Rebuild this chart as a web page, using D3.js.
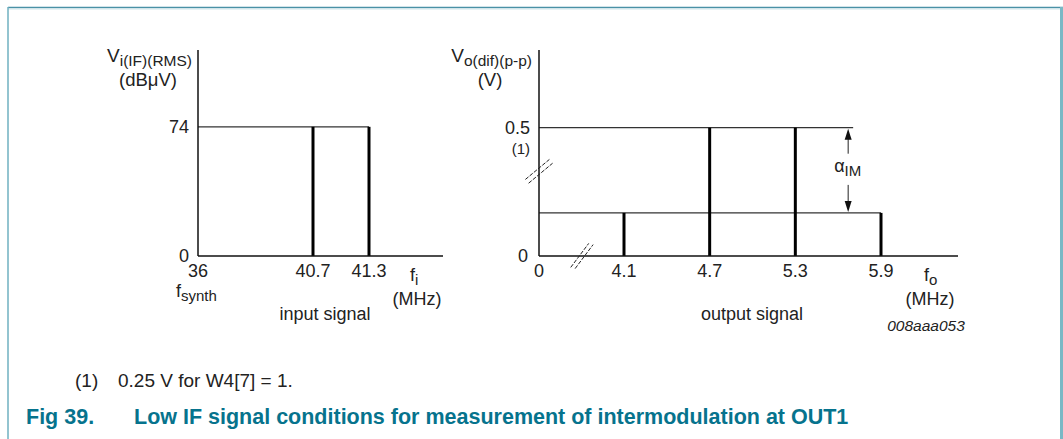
<!DOCTYPE html>
<html>
<head>
<meta charset="utf-8">
<script src="https://cdn.jsdelivr.net/npm/d3@7"></script>
<style>
  html, body { margin: 0; padding: 0; background: #fff; }
  svg { display: block; font-family: "Liberation Sans", Arial, sans-serif; }
</style>
</head>
<body>
<svg id="fig" width="1063" height="439"></svg>
<script>
// Input spectrum: two IF carriers at equal level
const inputFreqs = [40.7, 41.3];
const inputLevels = [74, 74];
const inputTicks = [36, 40.7, 41.3];
const inputTickLabels = ["36", "40.7", "41.3"];
const inputYTicks = [0, 74];
const inputYTickLabels = ["0", "74"];

// Output spectrum: two wanted tones and two intermodulation products
const outputFreqs = [4.1, 4.7, 5.3, 5.9];
const outputLevels = [0.168, 0.5, 0.5, 0.168];
const outputTicks = [0, 4.1, 4.7, 5.3, 5.9];
const outputTickLabels = ["0", "4.1", "4.7", "5.3", "5.9"];
const outputYTicks = [0, 0.5];
const outputYTickLabels = ["0", "0.5"];
const alphaFreq = 5.67;

const svg = d3.select("#fig");
const FS = 18;     // tick and axis text
const SUB = 15;    // subscripts
const INK = "#222";

// page frame
svg.append("line").attr("x1", 8).attr("x2", 1063).attr("y1", 7.5).attr("y2", 7.5)
  .attr("stroke", "#4a91a6").attr("stroke-width", 1.6);
svg.append("line").attr("x1", 8).attr("x2", 1063).attr("y1", 9).attr("y2", 9)
  .attr("stroke", "#cfe5ea").attr("stroke-width", 1);
svg.append("line").attr("x1", 8).attr("x2", 8).attr("y1", 7).attr("y2", 439)
  .attr("stroke", "#6fb1c0").attr("stroke-width", 1.5);
svg.append("line").attr("x1", 1061.5).attr("x2", 1061.5).attr("y1", 7).attr("y2", 439)
  .attr("stroke", "#7ab8c5").attr("stroke-width", 3);

function subText(g, x, y, main, sub, anchor, size, subSize) {
  const t = g.append("text").attr("x", x).attr("y", y).attr("font-size", size || FS).attr("fill", INK);
  if (anchor) t.attr("text-anchor", anchor);
  t.append("tspan").text(main);
  t.append("tspan").attr("font-size", subSize || SUB).attr("dy", 4).text(sub);
  return t;
}

// ---------- input signal panel ----------
const xIn = d3.scaleLinear().domain([36, 40.7, 41.3, 42.65]).range([198, 313, 369, 443]);
const yIn = d3.scaleLinear().domain([0, 118]).range([256, 50]);

const gIn = svg.append("g");
// level line at carrier amplitude
gIn.append("line")
  .attr("x1", xIn(36)).attr("x2", xIn(d3.max(inputFreqs)))
  .attr("y1", yIn(inputLevels[0])).attr("y2", yIn(inputLevels[0]))
  .attr("stroke", "#333").attr("stroke-width", 1.2);
// carriers
gIn.selectAll("line.bar").data(inputFreqs).join("line").attr("class", "bar")
  .attr("x1", d => xIn(d)).attr("x2", d => xIn(d))
  .attr("y1", yIn(0)).attr("y2", (d, i) => yIn(inputLevels[i]))
  .attr("stroke", "#000").attr("stroke-width", 3);
// axes
gIn.append("line").attr("x1", xIn(36)).attr("x2", xIn(36)).attr("y1", yIn(0)).attr("y2", yIn(118))
  .attr("stroke", "#111").attr("stroke-width", 1.5);
gIn.append("line").attr("x1", xIn(36)).attr("x2", xIn(42.65)).attr("y1", yIn(0)).attr("y2", yIn(0))
  .attr("stroke", "#111").attr("stroke-width", 1.5);

gIn.selectAll("text.xt").data(inputTicks).join("text").attr("class", "xt")
  .attr("x", d => xIn(d)).attr("y", 277)
  .attr("text-anchor", "middle").attr("font-size", FS).attr("fill", INK)
  .text((d, i) => inputTickLabels[i]);
gIn.selectAll("text.yt").data(inputYTicks).join("text").attr("class", "yt")
  .attr("x", 189).attr("y", d => yIn(d) + 6)
  .attr("text-anchor", "end").attr("font-size", FS).attr("fill", INK)
  .text((d, i) => inputYTickLabels[i]);

// f_synth under the origin
subText(gIn, 176, 297, "f", "synth");

// x axis label
subText(gIn, 410, 281, "f", "i");
gIn.append("text").attr("x", 417).attr("y", 305).attr("text-anchor", "middle")
  .attr("font-size", FS).attr("fill", INK).text("(MHz)");
gIn.append("text").attr("x", 325).attr("y", 320).attr("text-anchor", "middle")
  .attr("font-size", FS).attr("fill", INK).text("input signal");

// y axis label
subText(gIn, 192, 62, "V", "i(IF)(RMS)", "end", 19, 15.5);
gIn.append("text").attr("x", 148).attr("y", 86).attr("text-anchor", "middle")
  .attr("font-size", 18.5).attr("fill", INK).text("(dBμV)");

// ---------- output signal panel ----------
const xOut = d3.scaleLinear().domain([0, 4.1, 5.9, 6.44]).range([539, 624, 881, 958]);
const yOut = d3.scaleLinear().domain([0, 0.5]).range([256, 127.7]);
const yTop = yOut.invert(50);

const gOut = svg.append("g");
const levelHigh = d3.max(outputLevels);
const levelLow = d3.min(outputLevels);
// level lines
gOut.append("line")
  .attr("x1", xOut(0)).attr("x2", xOut(alphaFreq + 0.035))
  .attr("y1", yOut(levelHigh)).attr("y2", yOut(levelHigh))
  .attr("stroke", "#333").attr("stroke-width", 1.2);
gOut.append("line")
  .attr("x1", xOut(0)).attr("x2", xOut(d3.max(outputFreqs)))
  .attr("y1", yOut(levelLow)).attr("y2", yOut(levelLow))
  .attr("stroke", "#333").attr("stroke-width", 1.2);
// tones
gOut.selectAll("line.bar").data(outputFreqs).join("line").attr("class", "bar")
  .attr("x1", d => xOut(d)).attr("x2", d => xOut(d))
  .attr("y1", yOut(0)).attr("y2", (d, i) => yOut(outputLevels[i]))
  .attr("stroke", "#000").attr("stroke-width", 3);
// axes
gOut.append("line").attr("x1", xOut(0)).attr("x2", xOut(0)).attr("y1", yOut(0)).attr("y2", yOut(yTop))
  .attr("stroke", "#111").attr("stroke-width", 1.5);
gOut.append("line").attr("x1", xOut(0)).attr("x2", xOut(6.44)).attr("y1", yOut(0)).attr("y2", yOut(0))
  .attr("stroke", "#111").attr("stroke-width", 1.5);

// axis break marks (double dashed strokes)
function breakMark(cx, cy, dx, dy, ox, oy) {
  [-1, 1].forEach(s => {
    gOut.append("line")
      .attr("x1", cx - dx + s * ox).attr("y1", cy - dy + s * oy)
      .attr("x2", cx + dx + s * ox).attr("y2", cy + dy + s * oy)
      .attr("stroke", "#222").attr("stroke-width", 1)
      .attr("stroke-dasharray", "4,1.5");
  });
}
breakMark(xOut(0), yOut(0.33), 12, -10, 1.6, 1.9);
breakMark(xOut(2.07), yOut(0), 9, -12, 2.2, 0.6);

gOut.selectAll("text.xt").data(outputTicks).join("text").attr("class", "xt")
  .attr("x", d => xOut(d)).attr("y", 277)
  .attr("text-anchor", "middle").attr("font-size", FS).attr("fill", INK)
  .text((d, i) => outputTickLabels[i]);
gOut.selectAll("text.yt").data(outputYTicks).join("text").attr("class", "yt")
  .attr("x", d => d === 0 ? 528 : 530).attr("y", d => yOut(d) + 6)
  .attr("text-anchor", "end").attr("font-size", FS).attr("fill", INK)
  .text((d, i) => outputYTickLabels[i]);
gOut.append("text").attr("x", 530).attr("y", yOut(0.5) + 26).attr("text-anchor", "end")
  .attr("font-size", 15).attr("fill", INK).text("(1)");

// alpha_IM dimension arrow
const ax = xOut(alphaFreq);
const yHi = yOut(levelHigh), yLo = yOut(levelLow);
gOut.append("line").attr("x1", ax).attr("x2", ax).attr("y1", yHi + 8).attr("y2", yHi + 26)
  .attr("stroke", "#222").attr("stroke-width", 1);
gOut.append("line").attr("x1", ax).attr("x2", ax).attr("y1", yLo - 28).attr("y2", yLo - 8)
  .attr("stroke", "#222").attr("stroke-width", 1);
gOut.append("path").attr("d", `M${ax},${yHi + 1}L${ax - 3.5},${yHi + 12}L${ax + 3.5},${yHi + 12}Z`).attr("fill", "#111");
gOut.append("path").attr("d", `M${ax},${yLo - 1}L${ax - 3.5},${yLo - 12}L${ax + 3.5},${yLo - 12}Z`).attr("fill", "#111");
subText(gOut, ax - 14, (yHi + yLo) / 2 + 2, "α", "IM");

// x axis label
subText(gOut, 924, 281, "f", "o");
gOut.append("text").attr("x", 930).attr("y", 305).attr("text-anchor", "middle")
  .attr("font-size", FS).attr("fill", INK).text("(MHz)");
gOut.append("text").attr("x", 752).attr("y", 320).attr("text-anchor", "middle")
  .attr("font-size", FS).attr("fill", INK).text("output signal");
gOut.append("text").attr("x", 926).attr("y", 331).attr("text-anchor", "middle")
  .attr("font-size", 15.5).attr("font-style", "italic").attr("fill", INK).text("008aaa053");

// y axis label
subText(gOut, 532, 62, "V", "o(dif)(p-p)", "end", 19, 15.5);
gOut.append("text").attr("x", 490).attr("y", 86).attr("text-anchor", "middle")
  .attr("font-size", 18.5).attr("fill", INK).text("(V)");

// ---------- footnote and caption ----------
svg.append("text").attr("x", 75).attr("y", 387).attr("font-size", 19).attr("fill", INK).text("(1)");
svg.append("text").attr("x", 118).attr("y", 387).attr("font-size", 19).attr("fill", INK).text("0.25 V for W4[7] = 1.");
svg.append("text").attr("x", 26).attr("y", 424).attr("font-size", 21.5).attr("font-weight", "bold")
  .attr("fill", "#06738d").text("Fig 39.");
svg.append("text").attr("x", 134).attr("y", 424).attr("font-size", 21.5).attr("font-weight", "bold")
  .attr("fill", "#06738d").text("Low IF signal conditions for measurement of intermodulation at OUT1");
</script>
</body>
</html>
